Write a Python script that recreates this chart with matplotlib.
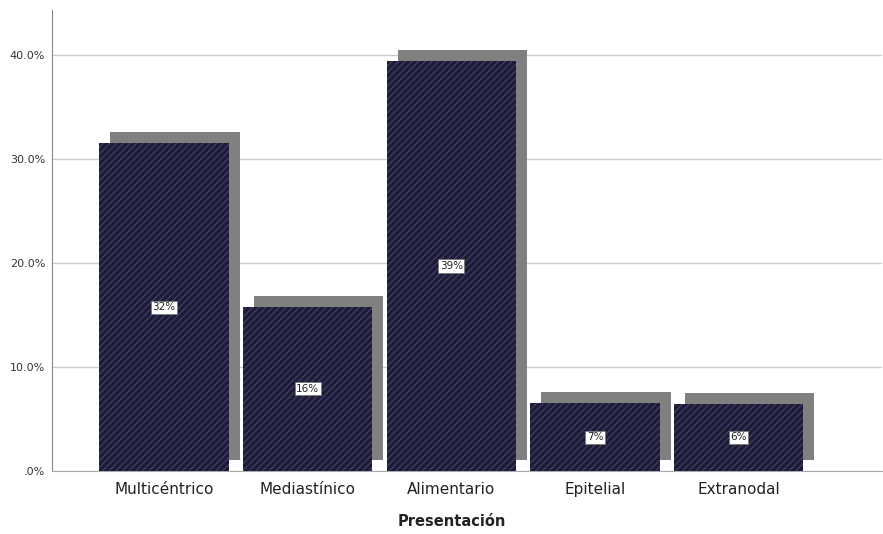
import matplotlib
matplotlib.use("Agg")
import matplotlib.pyplot as plt
from matplotlib.transforms import offset_copy
from matplotlib.ticker import FuncFormatter

# porcentaje de casos por tipo de presentacion
categorias = ["Multicéntrico", "Mediastínico", "Alimentario", "Epitelial", "Extranodal"]
porcentajes = [31.5, 15.8, 39.4, 6.52, 6.45]

fig = plt.figure(figsize=(8.83, 5.34), dpi=100)
ax = fig.add_axes([0.059, 0.118, 0.94, 0.863])

x = list(range(len(categorias)))

# sombra gris desplazada arriba a la derecha
sombra = offset_copy(ax.transData, fig=fig, x=11, y=11, units="dots")
ax.bar(x, porcentajes, width=0.9, color="#808080", linewidth=0,
       transform=sombra, zorder=2)

plt.rcParams["hatch.linewidth"] = 0.8
ax.bar(x, porcentajes, width=0.9, color="#1d1c33", edgecolor="#434277",
       hatch="/////", linewidth=0, zorder=3)

for xi, p in zip(x, porcentajes):
    ax.text(xi, p / 2, "{:.0f}%".format(p), ha="center", va="center",
            fontsize=7.5, color="#222222", zorder=4,
            bbox=dict(boxstyle="square,pad=0.15", fc="white", ec="#777777", lw=0.6))

ax.set_xlim(-0.78, 5.0)
ax.set_ylim(0, 44.3)
ax.set_yticks([0, 10, 20, 30, 40])
ax.yaxis.set_major_formatter(FuncFormatter(
    lambda v, pos: ".0%" if v == 0 else "{:.1f}%".format(v)))
ax.set_xticks(x)
ax.set_xticklabels(categorias, fontsize=11, color="#222222")
ax.tick_params(axis="y", length=0, pad=5, labelsize=8, labelcolor="#333333")
ax.tick_params(axis="x", length=0, pad=8)

ax.grid(axis="y", color="#cccccc", linewidth=1, zorder=0)
ax.set_axisbelow(True)
for s in ["top", "right"]:
    ax.spines[s].set_visible(False)
ax.spines["left"].set_color("#888888")
ax.spines["bottom"].set_color("#aaaaaa")

ax.set_xlabel("Presentación", fontsize=10.5, fontweight="bold", color="#222222")
ax.xaxis.set_label_coords(0.482, -0.093)

fig.savefig("out.png", dpi=100)
